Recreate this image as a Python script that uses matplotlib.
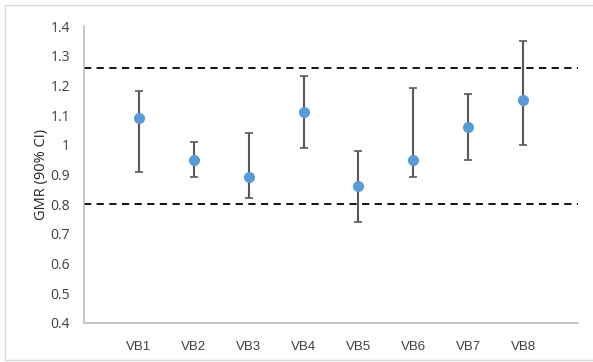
import matplotlib
matplotlib.use("Agg")
import matplotlib.pyplot as plt
from matplotlib.patches import Rectangle

categories = ["VB1", "VB2", "VB3", "VB4", "VB5", "VB6", "VB7", "VB8"]
gmr = [1.09, 0.95, 0.89, 1.11, 0.86, 0.95, 1.06, 1.15]
ci_upper = [1.18, 1.01, 1.04, 1.23, 0.98, 1.19, 1.17, 1.35]
ci_lower = [0.91, 0.89, 0.82, 0.99, 0.74, 0.89, 0.95, 1.00]
limits = [0.80, 1.26]
yticks = [0.4, 0.5, 0.6, 0.7, 0.8, 0.9, 1.0, 1.1, 1.2, 1.3, 1.4]
ytick_labels = ["0.4", "0.5", "0.6", "0.7", "0.8", "0.9", "1", "1.1", "1.2", "1.3", "1.4"]

fig = plt.figure(figsize=(5.93, 3.62), dpi=100)
fig.patch.set_facecolor("white")
fig.patches.append(Rectangle((5/593, 2/362), 1.0, 355/362, transform=fig.transFigure,
                             fill=False, edgecolor="#d9d9d9", linewidth=1.0))

ax = fig.add_axes([84/593, 1 - 323/362, (578-84)/593, (323-26)/362])
x = list(range(1, len(categories) + 1))
yerr = [[g - l for g, l in zip(gmr, ci_lower)], [u - g for g, u in zip(gmr, ci_upper)]]

for lim in limits:
    ax.axhline(lim, color="black", linestyle=(0, (4, 3)), linewidth=1.3, zorder=1)

ax.errorbar(x, gmr, yerr=yerr, fmt="o", color="#5B9BD5", markersize=7,
            ecolor="#595959", elinewidth=1.5, capsize=3, capthick=1.2, zorder=3)

ax.set_xlim(0, 9)
ax.set_ylim(0.4, 1.4)
ax.set_xticks(x)
ax.set_xticklabels(categories, fontsize=9.5, color="#404040", family="Liberation Sans")
ax.set_yticks(yticks)
ax.set_yticklabels(ytick_labels, fontsize=10, color="#404040", family="Open Sans")
ax.tick_params(axis="both", length=0)
ax.tick_params(axis="x", pad=13)
ax.tick_params(axis="y", pad=10)
for s in ["top", "right"]:
    ax.spines[s].set_visible(False)
for s in ["left", "bottom"]:
    ax.spines[s].set_color("#bfbfbf")
    ax.spines[s].set_linewidth(1.2)
ax.set_ylabel("GMR (90% CI)", fontsize=10.5, color="#262626", family="Open Sans", labelpad=1)

fig.savefig("out.png", dpi=100)
